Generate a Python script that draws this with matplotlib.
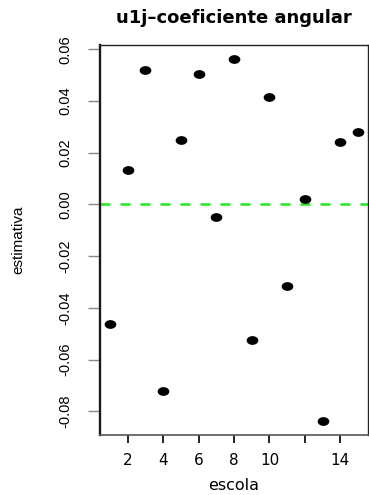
import numpy as np
import matplotlib
matplotlib.use("Agg")
import matplotlib.pyplot as plt
from matplotlib.path import Path
from matplotlib.transforms import Affine2D

# efeitos aleatórios u1j (coeficiente angular) por escola
escola = np.arange(1, 16)
estimativa = [-0.0464, 0.0135, 0.0522, -0.0723, 0.0251, 0.0503, -0.0050, 0.0561,
              -0.0526, 0.0414, -0.0317, 0.0023, -0.0836, 0.0240, 0.0282]

x_ticks = [2, 4, 6, 8, 10, 12, 14]
x_tick_labels = ["2", "4", "6", "8", "10", "", "14"]
y_ticks = [-0.08, -0.06, -0.04, -0.02, 0.00, 0.02, 0.04, 0.06]
y_tick_labels = ["-0.08", "-0.06", "-0.04", "-0.02", "0.00", "0.02", "0.04", "0.06"]

W, H = 369, 495
fig = plt.figure(figsize=(W / 100, H / 100), dpi=100)
ax = fig.add_axes([100 / W, 1 - 435 / H, 268 / W, 390 / H])

# marcador elíptico (ponto "achatado")
ell = Path.unit_circle().transformed(Affine2D().scale(1.4, 1.0))
ax.plot(escola, estimativa, ls="none", marker=ell, ms=7.4, color="black", zorder=3)

ax.axhline(0, color="#1ee81e", lw=1.8, dashes=(4.0, 4.0), zorder=2)

# limites estilo R (4% de folga)
ymin, ymax = min(estimativa), max(estimativa)
pad = 0.04 * (ymax - ymin)
ax.set_xlim(1 - 0.04 * 14, 15 + 0.04 * 14)
ax.set_ylim(ymin - pad, ymax + pad)

ax.set_xticks(x_ticks)
ax.set_xticklabels(x_tick_labels, family="DejaVu Sans", fontsize=11)
ax.set_yticks(y_ticks)
ax.set_yticklabels(y_tick_labels, family="Liberation Sans", fontsize=10.5,
                   rotation=90, va="center", ha="right")

ax.tick_params(axis="x", length=6, width=1.3, color="#111111", pad=7, direction="out")
ax.tick_params(axis="y", length=9, width=1.0, color="#888888", pad=11, direction="out")

for side in ["top", "right"]:
    ax.spines[side].set_linewidth(1.0)
    ax.spines[side].set_color("#222222")
ax.spines["bottom"].set_linewidth(1.2)
ax.spines["bottom"].set_color("#555555")
ax.spines["left"].set_linewidth(1.7)
ax.spines["left"].set_color("#1a1a1a")

fig.text(234 / W, 1 - 23 / H, "u1j\u2013coeficiente angular", ha="center", va="baseline",
         family="DejaVu Sans", fontweight="bold", fontsize=13)
fig.text(234 / W, 1 - 490 / H, "escola", ha="center", va="baseline",
         family="DejaVu Sans", fontsize=11.5)
fig.text(18 / W, 1 - 240 / H, "estimativa", ha="center", va="center", rotation=90,
         family="Liberation Sans", fontsize=11)

fig.savefig("out.png", dpi=100)
